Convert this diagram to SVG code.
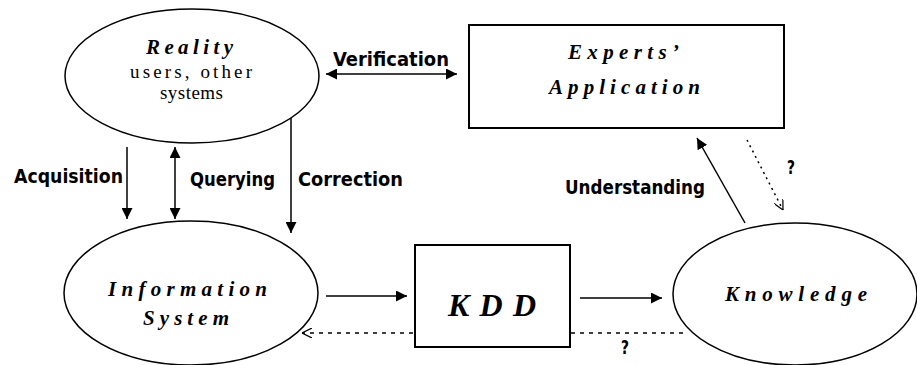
<svg xmlns="http://www.w3.org/2000/svg" width="917" height="365" viewBox="0 0 917 365">
<style>
.shape{fill:#fff;stroke:#000;stroke-width:1.5}
.box{fill:#fff;stroke:#000;stroke-width:2}
.ln{stroke:#000;stroke-width:1.5;fill:none}
.lbl{font-family:"DejaVu Sans Condensed","DejaVu Sans",sans-serif;font-weight:bold;font-size:19px;fill:#000}
.it{font-family:"Liberation Serif",serif;font-style:italic;font-weight:bold;font-size:21px;fill:#000}
.rm{font-family:"Liberation Serif",serif;font-size:19px;fill:#000}
</style>
<defs>
<marker id="ah" viewBox="0 0 10 10" refX="10" refY="5" markerWidth="11" markerHeight="11" markerUnits="userSpaceOnUse" orient="auto-start-reverse">
<path d="M0,0 L10,5 L0,10 z" fill="#000"/>
</marker>
<marker id="oh" viewBox="0 0 10 10" refX="10" refY="5" markerWidth="10" markerHeight="10" markerUnits="userSpaceOnUse" orient="auto">
<path d="M0,0 L10,5 L0,10" fill="none" stroke="#000" stroke-width="1.2"/>
</marker>
</defs>
<rect width="917" height="365" fill="#fff"/>
<g id="connectors">
<line class="ln" x1="326" y1="74" x2="457" y2="74" marker-start="url(#ah)" marker-end="url(#ah)"/>
<line class="ln" x1="127" y1="147" x2="127" y2="219" marker-end="url(#ah)"/>
<line class="ln" x1="175" y1="147" x2="175" y2="219" marker-start="url(#ah)" marker-end="url(#ah)"/>
<line class="ln" x1="291" y1="100" x2="291" y2="233" marker-end="url(#ah)"/>
<line class="ln" x1="326" y1="296" x2="407" y2="296" marker-end="url(#ah)"/>
<line class="ln" x1="580" y1="298" x2="662" y2="298" marker-end="url(#ah)"/>
<line class="ln" x1="745" y1="223" x2="697" y2="138" marker-end="url(#ah)"/>
<line class="ln" x1="747" y1="140" x2="783" y2="210" stroke-dasharray="2,4" marker-end="url(#oh)"/>
<line class="ln" x1="683" y1="333" x2="302" y2="333" stroke-dasharray="4,5" marker-end="url(#oh)"/>
<text class="lbl" x="333" y="66" textLength="116" lengthAdjust="spacingAndGlyphs">Verification</text>
<text class="lbl" x="14" y="183" textLength="109" lengthAdjust="spacingAndGlyphs">Acquisition</text>
<text class="lbl" x="190" y="186" textLength="85" lengthAdjust="spacingAndGlyphs">Querying</text>
<text class="lbl" x="298" y="186" textLength="105" lengthAdjust="spacingAndGlyphs">Correction</text>
<text class="lbl" x="565" y="194" textLength="140" lengthAdjust="spacingAndGlyphs">Understanding</text>
<text class="lbl" x="787" y="174" textLength="8" lengthAdjust="spacingAndGlyphs">?</text>
<text class="lbl" x="621" y="354" textLength="8" lengthAdjust="spacingAndGlyphs">?</text>
</g>
<g id="reality">
<ellipse class="shape" cx="192" cy="76" rx="127" ry="67"/>
<text class="it" x="146" y="54" textLength="87" lengthAdjust="spacing">Reality</text>
<text class="rm" x="130" y="78" textLength="122" lengthAdjust="spacing">users, other</text>
<text class="rm" x="160" y="99" textLength="63" lengthAdjust="spacing">systems</text>
</g>
<g id="experts">
<rect class="box" x="469" y="25" width="315" height="103"/>
<text class="it" x="568" y="59" textLength="111" lengthAdjust="spacing">Experts’</text>
<text class="it" x="549" y="94" textLength="151" lengthAdjust="spacing">Application</text>
</g>
<g id="infosys">
<ellipse class="shape" cx="191" cy="293" rx="127" ry="72"/>
<text class="it" x="108" y="296" textLength="159" lengthAdjust="spacing">Information</text>
<text class="it" x="143" y="325" textLength="86" lengthAdjust="spacing">System</text>
</g>
<g id="kdd">
<rect class="box" x="415" y="245" width="155" height="102"/>
<text class="it" x="448" y="316" style="font-size:32px" textLength="88" lengthAdjust="spacing">KDD</text>
</g>
<g id="knowledge">
<ellipse class="shape" cx="795" cy="294" rx="122" ry="71"/>
<text class="it" x="725" y="301" textLength="142" lengthAdjust="spacing">Knowledge</text>
</g>
</svg>
